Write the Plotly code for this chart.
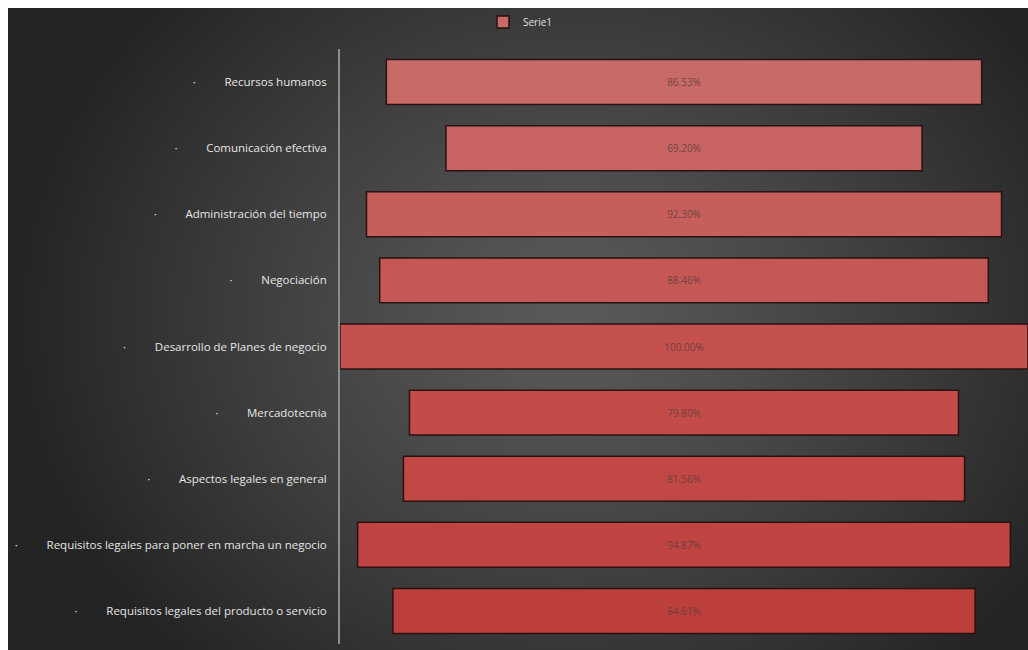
import base64, struct, zlib
import numpy as np
import plotly.graph_objects as go

categories = [
    "Recursos humanos",
    "Comunicación efectiva",
    "Administración del tiempo",
    "Negociación",
    "Desarrollo de Planes de negocio",
    "Mercadotecnia",
    "Aspectos legales en general",
    "Requisitos legales para poner en marcha un negocio",
    "Requisitos legales del producto o servicio",
]
values = [86.53, 69.20, 92.30, 88.46, 100.00, 79.80, 81.56, 94.87, 84.61]
value_labels = ["86.53%", "69.20%", "92.30%", "88.46%", "100.00%", "79.80%", "81.56%", "94.87%", "84.61%"]
bar_colors = ["#c86a67", "#c76462", "#c65e5b", "#c55855", "#c5514e", "#c34c49", "#c24845", "#c04441", "#bd3f3c"]
series_name = "Serie1"

W, H = 1028, 650
L, R, T, B = 340, 0, 49, 6
pw, ph = W - L - R, H - T - B
PANEL = 8  # white border at top / left of the dark panel


def png_b64(arr):
    h, w, _ = arr.shape
    raw = b"".join(b"\x00" + arr[i].tobytes() for i in range(h))

    def chunk(tag, data):
        c = struct.pack(">I", len(data)) + tag + data
        return c + struct.pack(">I", zlib.crc32(tag + data) & 0xFFFFFFFF)

    png = b"\x89PNG\r\n\x1a\n" + chunk(b"IHDR", struct.pack(">IIBBBBB", w, h, 8, 2, 0, 0, 0))
    png += chunk(b"IDAT", zlib.compress(raw, 9)) + chunk(b"IEND", b"")
    return "data:image/png;base64," + base64.b64encode(png).decode()


# radial background gradient for the dark panel
gw, gh = 255, 160
yy, xx = np.mgrid[0:gh, 0:gw]
cx, cy = 0.55 * gw, 0.48 * gh
d = np.sqrt(((xx - cx) / (0.55 * gw)) ** 2 + ((yy - cy) / (0.75 * gh)) ** 2)
d = np.clip(d, 0, 1)
c_in, c_out = 90.0, 36.0
val = c_in + (c_out - c_in) * d ** 1.2
img = np.repeat(val[:, :, None], 3, axis=2).astype(np.uint8)
bg_src = png_b64(img)

px0 = (PANEL - L) / pw
px1 = (W - L) / pw
py_top = (H - B - PANEL) / ph
py_bot = -B / ph

ticktext = ["·" + "\u2003\u2003\u2002" + c + " " for c in categories]
bases = [(100 - v) / 2 for v in values]

fig = go.Figure()
fig.add_trace(go.Bar(
    y=categories,
    x=values,
    base=bases,
    orientation="h",
    name=series_name,
    width=0.68,
    marker=dict(color=bar_colors, line=dict(color="#2a1212", width=1.5)),
    text=value_labels,
    textposition="inside",
    insidetextanchor="middle",
    textangle=0,
    textfont=dict(family="Open Sans, sans-serif", size=10, color="rgba(85,60,60,0.8)"),
    showlegend=True,
    hoverinfo="skip",
))

fig.update_layout(
    width=W, height=H,
    margin=dict(l=L, r=R, t=T, b=B, pad=0),
    paper_bgcolor="white",
    plot_bgcolor="rgba(0,0,0,0)",
    images=[dict(source=bg_src, xref="paper", yref="paper", x=px0, y=py_top,
                 sizex=px1 - px0, sizey=py_top - py_bot, sizing="stretch",
                 xanchor="left", yanchor="top", layer="below")],
    xaxis=dict(range=[0, 100], visible=False, fixedrange=True),
    yaxis=dict(
        categoryorder="array", categoryarray=categories[::-1],
        tickmode="array", tickvals=categories, ticktext=ticktext,
        showline=True, linecolor="#8c8c8c", linewidth=2,
        showgrid=False, zeroline=False, ticks="",
        tickfont=dict(family="Open Sans, sans-serif", size=11.5, color="#e6e6e6"),
        ticklabelstandoff=6,
    ),
    legend=dict(orientation="h", xref="paper", xanchor="left",
                x=(483 - L) / pw,
                y=(H - B - 22) / ph, yanchor="middle",
                font=dict(family="Open Sans, sans-serif", size=10, color="#e0e0e0"),
                bgcolor="rgba(0,0,0,0)", itemwidth=30),
    bargap=0.32,
)

fig.write_html(
    "out.html",
    config={"displayModeBar": False},
    post_script="document.documentElement.style.overflow='hidden';document.body.style.margin='0';",
)
